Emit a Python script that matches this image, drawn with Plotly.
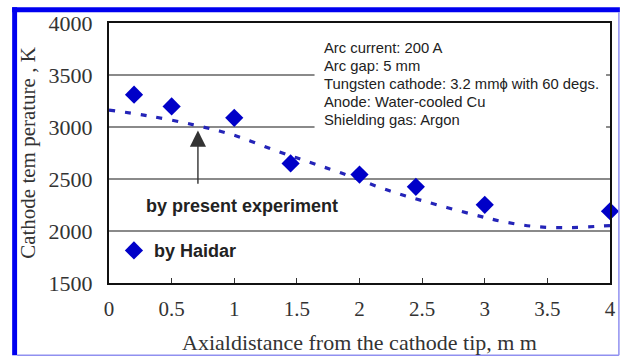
import plotly.graph_objects as go

# Data
haidar_x = [0.2, 0.5, 1.0, 1.45, 2.0, 2.45, 3.0, 4.0]
haidar_T = [3311, 3198, 3088, 2650, 2543, 2425, 2252, 2190]

exp_x = [0.0, 0.3, 0.68, 1.0, 1.32, 1.585, 1.85, 2.24, 2.5, 2.9, 3.15, 3.41, 3.68, 3.94, 4.0]
exp_T = [3163, 3110, 3020, 2920, 2778, 2668, 2559, 2386, 2292, 2161, 2089, 2042, 2033, 2048, 2052]

x_ticks = [0, 0.5, 1, 1.5, 2, 2.5, 3, 3.5, 4]
y_ticks = [1500, 2000, 2500, 3000, 3500, 4000]

conditions = ["Arc current: 200 A", "Arc gap: 5 mm",
              "Tungsten cathode: 3.2 mm\u03d5 with 60 degs.",
              "Anode: Water-cooled Cu", "Shielding gas: Argon"]

W, H = 627, 362
L, R, T, B = 109, 11, 20, 76
pw, ph = W - L - R, H - T - B

def px(xp):
    return (xp - L) / pw

def py(yp):
    return 1 - (yp - T) / ph

fig = go.Figure()
fig.add_trace(go.Scatter(x=exp_x, y=exp_T, mode="lines", line=dict(color="#2424b8", width=3.2, dash="6px,10px", shape="spline"),
                         showlegend=False, hoverinfo="skip"))
fig.add_trace(go.Scatter(x=haidar_x, y=haidar_T, mode="markers", name="by Haidar",
                         marker=dict(symbol="diamond", size=14, color="#0000c8"), cliponaxis=False))

serif = "Liberation Serif, Times New Roman, serif"
sans = "Liberation Sans, Arial, sans-serif"

fig.update_layout(
    width=W, height=H, margin=dict(l=L, r=R, t=T, b=B),
    paper_bgcolor="white", plot_bgcolor="white",
    showlegend=True,
    legend=dict(x=px(114), y=py(253), xanchor="left", yanchor="middle", bgcolor="rgba(0,0,0,0)",
                font=dict(family=sans, size=18, color="#222", weight="bold")),
    xaxis=dict(range=[0, 4], tickvals=x_ticks, ticktext=[str(v) for v in x_ticks],
               showgrid=False, zeroline=False, showline=True, linecolor="#111", linewidth=2, mirror=True,
               ticks="inside", ticklen=5, tickcolor="#333", tickwidth=1, ticklabelstandoff=6,
               tickfont=dict(family=serif, size=21, color="#333"),
               title=dict(text="Axialdistance from the cathode tip, m m", font=dict(family=serif, size=22, color="#333"), standoff=14)),
    yaxis=dict(range=[1500, 4000], tickvals=y_ticks, ticktext=[str(v) for v in y_ticks],
               showgrid=True, gridcolor="#8a8a8a", gridwidth=1.5, zeroline=False,
               showline=True, linecolor="#111", linewidth=2, mirror=True, ticks="", ticklabelstandoff=10,
               tickfont=dict(family=serif, size=22, color="#333"),
               title=dict(text="Cathode tem perature , K", font=dict(family=serif, size=21, color="#333"), standoff=7)),
)

# white box behind the condition notes (covers gridlines)
fig.add_shape(type="rect", xref="paper", yref="paper", x0=px(317), x1=px(612), y0=py(134), y1=py(28),
              fillcolor="white", line=dict(width=0), layer="above")

for i, line in enumerate(conditions):
    fig.add_annotation(xref="paper", yref="paper", x=px(325), y=py(46 + 18.3 * i), xanchor="left", yanchor="middle",
                       text=line, showarrow=False, align="left",
                       font=dict(family=sans, size=14.8, color="#222"))

fig.add_annotation(x=0.71, y=2966, ax=0.71, ay=2440, axref="x", ayref="y", text="", showarrow=True,
                   arrowhead=2, arrowsize=2.3, arrowwidth=1.4, arrowcolor="#333")
fig.add_annotation(x=1.065, y=2242, text="by present experiment", showarrow=False,
                   font=dict(family=sans, size=18, color="#222", weight="bold"))

# outer frame
fig.add_shape(type="rect", xref="paper", yref="paper", x0=px(11), x1=px(16), y0=py(4), y1=py(360),
              fillcolor="#0000f0", line=dict(width=0), layer="above")
fig.add_shape(type="rect", xref="paper", yref="paper", x0=px(11), x1=px(626), y0=py(4), y1=py(9),
              fillcolor="#0000f0", line=dict(width=0), layer="above")
fig.add_shape(type="line", xref="paper", yref="paper", x0=px(625), x1=px(625), y0=py(9), y1=py(360),
              line=dict(color="#9090f0", width=1.5), layer="above")
fig.add_shape(type="line", xref="paper", yref="paper", x0=px(16), x1=px(625), y0=py(360), y1=py(360),
              line=dict(color="#9090f0", width=1.5), layer="above")

fig.write_html("out.html")
